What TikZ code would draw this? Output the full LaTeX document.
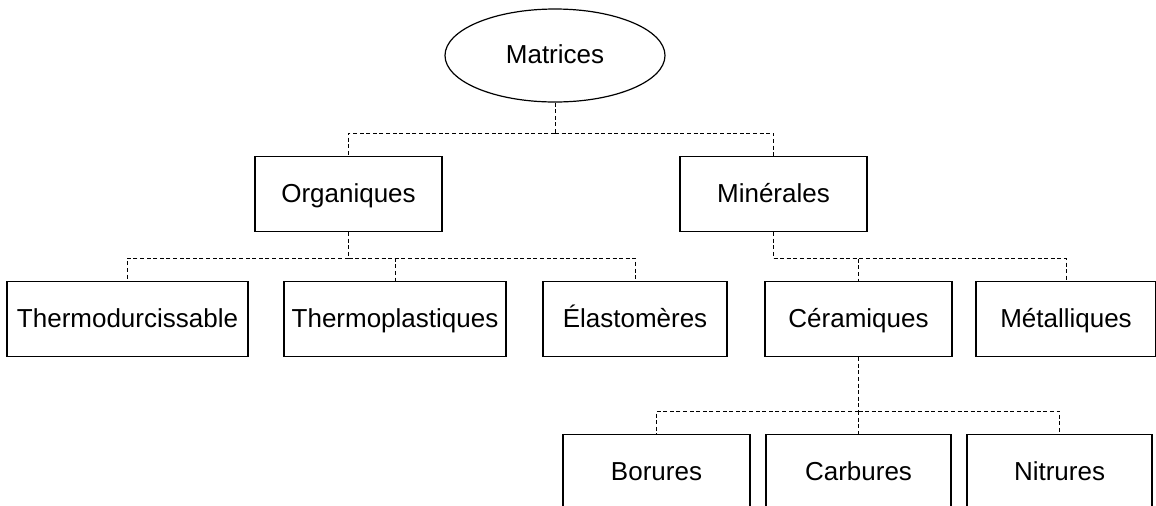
\documentclass[tikz,border=0pt]{standalone}
\usepackage{fontspec}
\setmainfont{Liberation Sans}
\usetikzlibrary{shapes.geometric}

\tikzset{
	box/.style={draw, line width=0.6pt, minimum width=93.5pt, minimum height=37.5pt, inner sep=0pt,
		text height=10.8pt, text depth=2.8pt, font=\fontsize{13}{15}\selectfont},
	link/.style={draw, dashed, dash pattern=on 2pt off 1.3pt, line width=0.4pt}
}

\begin{document}
\begin{tikzpicture}[x=0.5pt, y=-0.5pt]
	\clip (0,0) rectangle (1156,505);

	\node [box, ellipse, minimum width=110pt, minimum height=46.5pt] (mat) at (555, 55.5) {Matrices};

	\node [box] (org) at (348.5, 194) {Organiques};
	\node [box] (min) at (773.5, 194) {Minérales};

	\node [box, minimum width=120.5pt] (thd) at (127.5, 319) {Thermodurcissable};
	\node [box, minimum width=111pt] (thp) at (395, 319) {Thermoplastiques};
	\node [box, minimum width=92pt] (ela) at (635, 319) {Élastomères};
	\node [box] (cer) at (858.5, 319) {Céramiques};
	\node [box, minimum width=90pt] (met) at (1066, 319) {Métalliques};

	\node [box] (bor) at (656.5, 472) {Borures};
	\node [box, minimum width=92.5pt] (car) at (858.5, 472) {Carbures};
	\node [box, minimum width=92.5pt] (nit) at (1059.5, 472) {Nitrures};

	\coordinate (t1) at (mat.south |- 0, 133);
	\coordinate (t2) at (org.south |- 0, 258);
	\coordinate (t3) at (min.south |- 0, 258);
	\coordinate (t4) at (cer.south |- 0, 411);

	\draw [link] (mat.south) -- (t1);
	\draw [link] (t1) -| (org.north);
	\draw [link] (t1) -| (min.north);

	\draw [link] (org.south) -- (t2);
	\draw [link] (t2) -| (thd.north);
	\draw [link] (t2) -| (thp.north);
	\draw [link] (t2) -| (ela.north);

	\draw [link] (min.south) -- (t3);
	\draw [link] (t3) -| (cer.north);
	\draw [link] (t3) -| (met.north);

	\draw [link] (cer.south) -- (t4);
	\draw [link] (t4) -| (bor.north);
	\draw [link] (t4) -| (car.north);
	\draw [link] (t4) -| (nit.north);
\end{tikzpicture}
\end{document}
